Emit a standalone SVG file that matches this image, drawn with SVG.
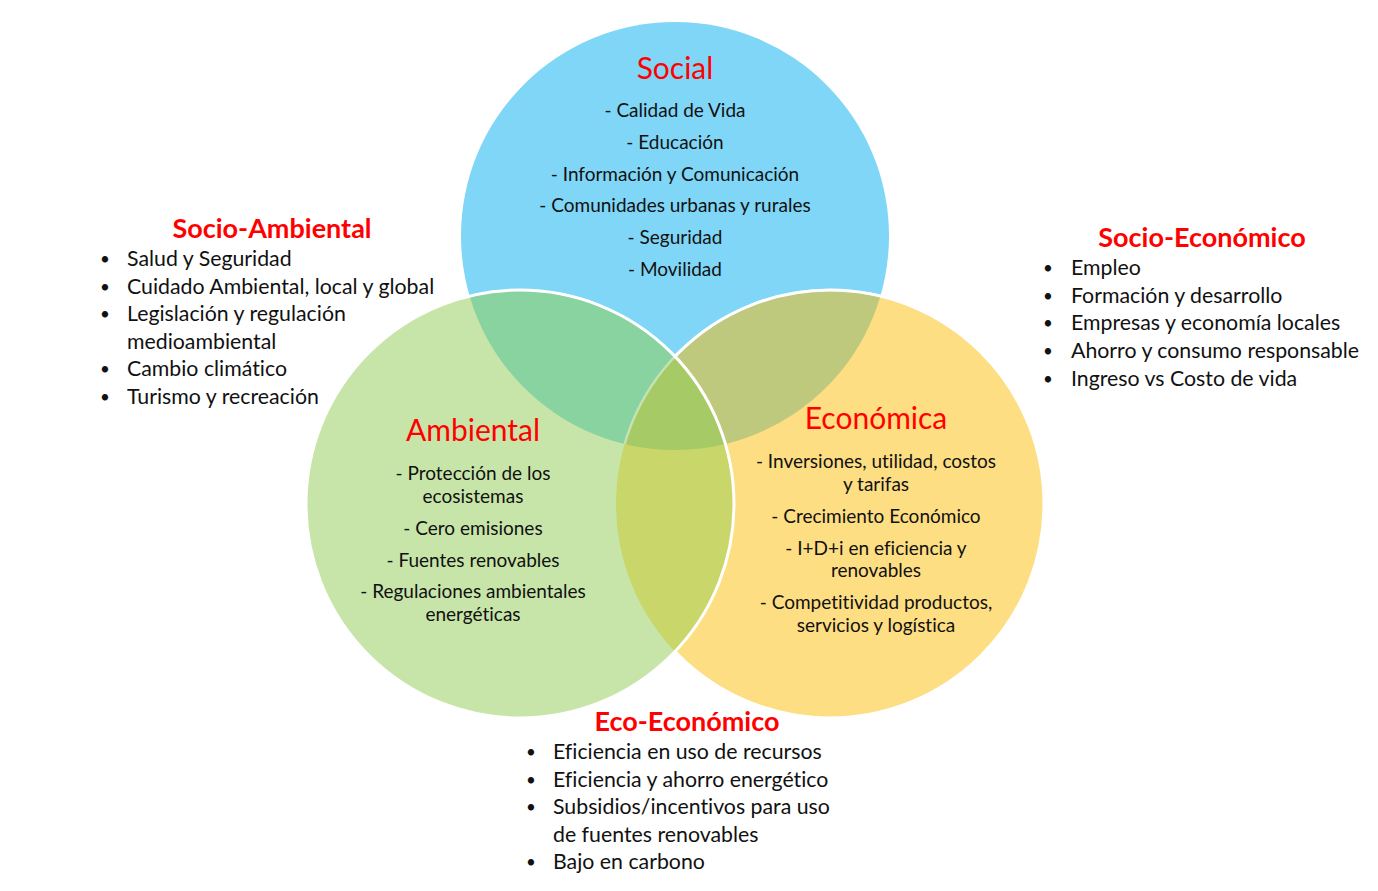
<svg xmlns="http://www.w3.org/2000/svg" width="1378" height="891" viewBox="0 0 1378 891">
<style>
text{font-family:Lato,"Liberation Sans",sans-serif;fill:#111;font-variant-ligatures:none}
.t{font-size:30px;fill:#F00;text-anchor:middle}
.i{font-size:19px;text-anchor:middle}
.h{font-size:27px;font-weight:bold;fill:#F00;text-anchor:middle}
.b{font-size:21.3px}
.d{font-size:17px}
</style>
<defs>
<clipPath id="cS"><circle cx="675" cy="236" r="214"/></clipPath>
<clipPath id="cA"><circle cx="520" cy="504" r="214"/></clipPath>
<clipPath id="cE"><circle cx="830" cy="504" r="214"/></clipPath>
<mask id="mOutA"><rect width="1378" height="891" fill="#fff"/><circle cx="520" cy="504" r="214" fill="#000"/></mask>
</defs>
<rect width="1378" height="891" fill="#fff"/>
<g id="circles">
<circle cx="675" cy="236" r="214" fill="#7FD6F7"/>
<circle cx="830" cy="504" r="214" fill="#FEDE82"/>
<circle cx="520" cy="504" r="214" fill="#C7E5A8"/>
<g clip-path="url(#cS)">
<circle cx="520" cy="504" r="214" fill="#88D3A0"/>
<circle cx="830" cy="504" r="214" fill="#BFC97E"/>
</g>
<g clip-path="url(#cA)">
<circle cx="830" cy="504" r="214" fill="#C8D66A"/>
<g clip-path="url(#cS)"><circle cx="830" cy="504" r="214" fill="#A6CB66"/></g>
</g>
<circle cx="830" cy="504" r="214" fill="none" stroke="#fff" stroke-width="3" mask="url(#mOutA)"/>
<g clip-path="url(#cS)"><circle cx="830" cy="504" r="214" fill="none" stroke="#fff" stroke-opacity="0.4" stroke-width="2.5"/></g>
<circle cx="520" cy="504" r="214" fill="none" stroke="#fff" stroke-width="3"/>
</g>
<g id="social">
<text class="t" x="675" y="79">Social</text>
<text class="i" x="675" y="117">- Calidad de Vida</text>
<text class="i" x="675" y="149">- Educación</text>
<text class="i" x="675" y="181">- Información y Comunicación</text>
<text class="i" x="675" y="212">- Comunidades urbanas y rurales</text>
<text class="i" x="675" y="244">- Seguridad</text>
<text class="i" x="675" y="276">- Movilidad</text>
</g>
<g id="ambiental">
<text class="t" x="473" y="441">Ambiental</text>
<text class="i" x="473" y="480">- Protección de los</text>
<text class="i" x="473" y="503">ecosistemas</text>
<text class="i" x="473" y="535">- Cero emisiones</text>
<text class="i" x="473" y="567">- Fuentes renovables</text>
<text class="i" x="473" y="598">- Regulaciones ambientales</text>
<text class="i" x="473" y="621">energéticas</text>
</g>
<g id="economica">
<text class="t" x="876" y="429">Económica</text>
<text class="i" x="876" y="468">- Inversiones, utilidad, costos</text>
<text class="i" x="876" y="491">y tarifas</text>
<text class="i" x="876" y="523">- Crecimiento Económico</text>
<text class="i" x="876" y="555">- I+D+i en eficiencia y</text>
<text class="i" x="876" y="577">renovables</text>
<text class="i" x="876" y="609">- Competitividad productos,</text>
<text class="i" x="876" y="632">servicios y logística</text>
</g>
<g id="socio-ambiental">
<text class="h" x="272" y="238">Socio-Ambiental</text>
<text class="d" x="100" y="265">•</text><text class="b" x="127" y="266">Salud y Seguridad</text>
<text class="d" x="100" y="293">•</text><text class="b" x="127" y="294">Cuidado Ambiental, local y global</text>
<text class="d" x="100" y="320">•</text><text class="b" x="127" y="321">Legislación y regulación</text>
<text class="b" x="127" y="349">medioambiental</text>
<text class="d" x="100" y="375">•</text><text class="b" x="127" y="376">Cambio climático</text>
<text class="d" x="100" y="403">•</text><text class="b" x="127" y="404">Turismo y recreación</text>
</g>
<g id="socio-economico">
<text class="h" x="1202" y="247">Socio-Económico</text>
<text class="d" x="1043" y="274">•</text><text class="b" x="1071" y="275">Empleo</text>
<text class="d" x="1043" y="302">•</text><text class="b" x="1071" y="303">Formación y desarrollo</text>
<text class="d" x="1043" y="329">•</text><text class="b" x="1071" y="330">Empresas y economía locales</text>
<text class="d" x="1043" y="357">•</text><text class="b" x="1071" y="358">Ahorro y consumo responsable</text>
<text class="d" x="1043" y="385">•</text><text class="b" x="1071" y="386">Ingreso vs Costo de vida</text>
</g>
<g id="eco-economico">
<text class="h" x="687" y="731">Eco-Económico</text>
<text class="d" x="526" y="758">•</text><text class="b" x="553" y="759">Eficiencia en uso de recursos</text>
<text class="d" x="526" y="786">•</text><text class="b" x="553" y="787">Eficiencia y ahorro energético</text>
<text class="d" x="526" y="813">•</text><text class="b" x="553" y="814">Subsidios/incentivos para uso</text>
<text class="b" x="553" y="842">de fuentes renovables</text>
<text class="d" x="526" y="868">•</text><text class="b" x="553" y="869">Bajo en carbono</text>
</g>
</svg>
